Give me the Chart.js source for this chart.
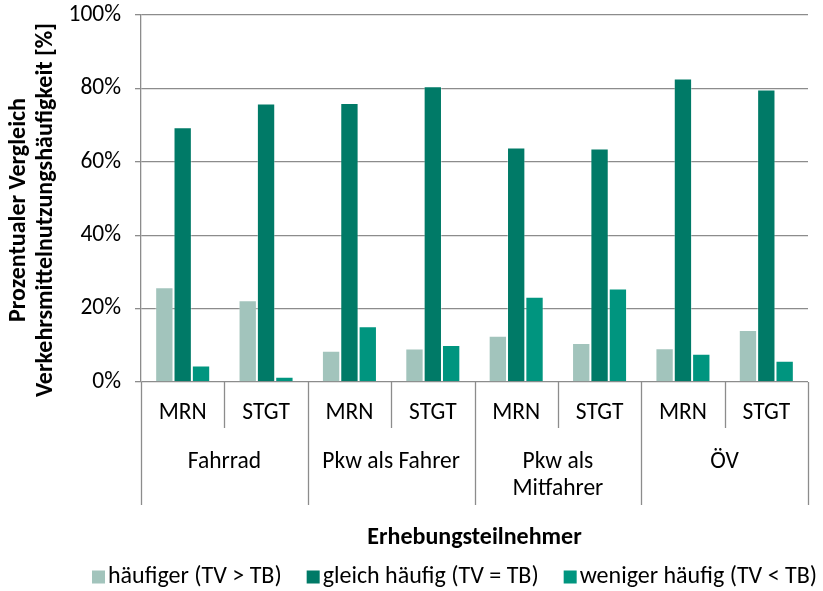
<!DOCTYPE html>
<html><head><meta charset="utf-8">
<script src="https://cdn.jsdelivr.net/npm/chart.js@4.4.1/dist/chart.umd.min.js"></script>
<style>html,body{margin:0;padding:0;background:#fff}canvas{display:block}</style>
</head><body>
<canvas id="c" width="823" height="591"></canvas>
<script>
// ---- data ----
const groups = ['Fahrrad', 'Pkw als Fahrer', ['Pkw als', 'Mitfahrer'], 'ÖV'];
const subLabels = ['MRN', 'STGT'];
const seriesNames = ['häufiger (TV > TB)', 'gleich häufig (TV = TB)', 'weniger häufig (TV < TB)'];
const haeufiger = [25.8, 22.3, 8.5, 9.1, 12.6, 10.6, 9.2, 14.2];
const gleich    = [69.4, 75.9, 76.0, 80.6, 63.9, 63.6, 82.7, 79.7];
const weniger   = [4.5, 1.4, 15.2, 10.1, 23.2, 25.5, 7.7, 5.8];
const yTicks = [0, 20, 40, 60, 80, 100];
const yTitle = ['Prozentualer Vergleich', 'Verkehrsmittelnutzungshäufigkeit [%]'];
const xTitle = 'Erhebungsteilnehmer';

const colors = ['#a2c4bc', '#007a67', '#00957f'];
const FONT = 'Carlito, Calibri, Lato, sans-serif';
const FS = 23.5;
const FT = 24;
const GRID = '#8c8c8c';

const labels = groups.flatMap(() => subLabels);

const bottomPlugin = {
  id: 'extras',
  afterDraw(chart) {
    const ctx = chart.ctx, x = chart.scales.x, area = chart.chartArea;
    ctx.save();
    // separators under the axis
    ctx.strokeStyle = GRID; ctx.lineWidth = 1.3;
    for (let i = 0; i <= labels.length; i++) {
      const px = Math.round(x.getPixelForValue(i - 0.5)) + 0.5;
      const len = (i % 2 === 0) ? 123 : 46;
      ctx.beginPath(); ctx.moveTo(px, area.bottom); ctx.lineTo(px, area.bottom + len); ctx.stroke();
    }
    // group labels
    ctx.fillStyle = '#000'; ctx.font = FS + 'px ' + FONT;
    ctx.textAlign = 'center'; ctx.textBaseline = 'middle';
    groups.forEach((g, gi) => {
      const cx = x.getPixelForValue(gi * 2 + 0.5);
      const lines = Array.isArray(g) ? g : [g];
      lines.forEach((ln, li) => ctx.fillText(ln, cx, 462 + li * 27.5));
    });
    // y axis title (two lines, rotated)
    ctx.font = 'bold ' + FT + 'px ' + FONT;
    const cy = 210;
    [19, 46].forEach((tx, i) => {
      ctx.save(); ctx.translate(tx, cy); ctx.rotate(-Math.PI / 2);
      ctx.fillText(yTitle[i], 0, 0); ctx.restore();
    });
    // legend
    ctx.font = FT + 'px ' + FONT; ctx.textAlign = 'left';
    let lx = 92; const ly = 577;
    chart.data.datasets.forEach((ds, i) => {
      ctx.fillStyle = ds.backgroundColor;
      ctx.fillRect(lx, ly - 6.5, 13, 13);
      ctx.fillStyle = '#000';
      ctx.fillText(ds.label, lx + 16, ly);
      lx += 16 + ctx.measureText(ds.label).width + 25;
    });
    ctx.restore();
  }
};

new Chart(document.getElementById('c'), {
  type: 'bar',
  data: {
    labels,
    datasets: [
      { label: seriesNames[0], data: haeufiger, backgroundColor: colors[0] },
      { label: seriesNames[1], data: gleich, backgroundColor: colors[1] },
      { label: seriesNames[2], data: weniger, backgroundColor: colors[2] }
    ].map(d => Object.assign(d, { borderWidth: 1, borderColor: 'rgba(255,255,255,0.35)', categoryPercentage: 0.66, barPercentage: 1 }))
  },
  options: {
    responsive: false, animation: false, devicePixelRatio: 1,
    layout: { padding: { top: 15, right: 15, bottom: 39, left: 0 } },
    plugins: { legend: { display: false }, tooltip: { enabled: false } },
    scales: {
      x: {
        grid: { display: false, drawTicks: false },
        border: { display: false },
        ticks: { font: { family: FONT, size: FS }, color: '#000', padding: 17, maxRotation: 0, autoSkip: false },
        title: { display: true, text: xTitle, color: '#000', padding: 0, font: { family: FONT, size: FT, weight: 'bold' } },
        afterFit(s) { s.height = 170; s.paddingLeft = 0; s.paddingRight = 0; }
      },
      y: {
        min: 0, max: 100,
        afterBuildTicks(s) { s.ticks = yTicks.map(v => ({ value: v })); },
        ticks: { callback: v => v + '%', padding: 14, color: '#000', font: { family: FONT, size: FS } },
        grid: { color: GRID, lineWidth: 1.3, tickLength: 6 },
        border: { color: GRID, width: 1.3 },
        afterFit(s) { s.width = 141; s.paddingTop = 0; s.paddingBottom = 0; }
      }
    }
  },
  plugins: [bottomPlugin]
});
</script>
</body></html>
